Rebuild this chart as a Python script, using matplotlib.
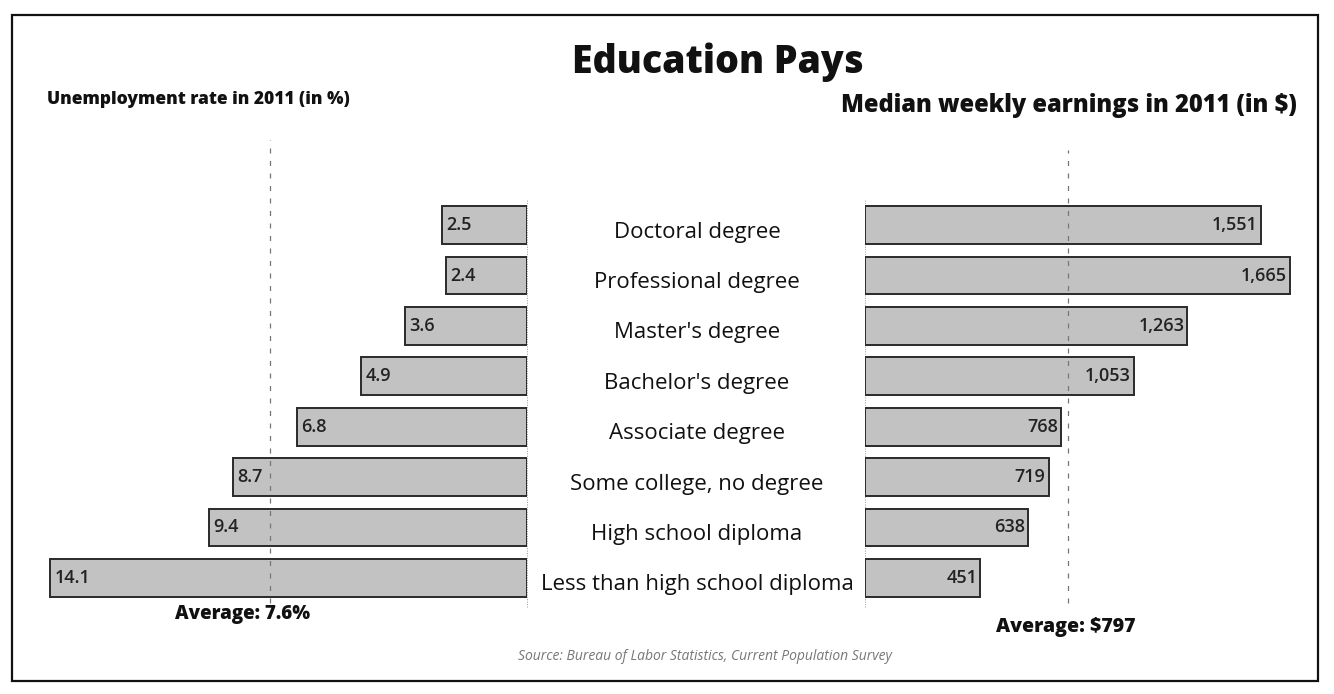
import matplotlib
matplotlib.use("Agg")
import matplotlib.pyplot as plt
from matplotlib.patches import Rectangle

categories = ["Doctoral degree", "Professional degree", "Master's degree",
              "Bachelor's degree", "Associate degree", "Some college, no degree",
              "High school diploma", "Less than high school diploma"]
unemployment = [2.5, 2.4, 3.6, 4.9, 6.8, 8.7, 9.4, 14.1]
unemp_labels = ["2.5", "2.4", "3.6", "4.9", "6.8", "8.7", "9.4", "14.1"]
earnings = [1551, 1665, 1263, 1053, 768, 719, 638, 451]
earn_labels = ["1,551", "1,665", "1,263", "1,053", "768", "719", "638", "451"]
avg_unemp = 7.6
avg_earn = 797

plt.rcParams['font.family'] = ['Open Sans', 'DejaVu Sans']

W, H = 1334, 694
fig = plt.figure(figsize=(W / 100, H / 100), dpi=100)
fig.patch.set_facecolor('white')

def fx(x):
    return x / W

def fy(y):
    return 1 - y / H

# frame
fig.patches.append(Rectangle((fx(12), fy(681)), fx(1318) - fx(12), fy(15) - fy(681),
                             transform=fig.transFigure, fill=False,
                             edgecolor='#111111', linewidth=1.6))

top_px, bot_px = 200, 603
ax_h = (bot_px - top_px) / H
axL = fig.add_axes([fx(40), fy(bot_px), fx(527) - fx(40), ax_h])
axR = fig.add_axes([fx(865), fy(bot_px), fx(1310) - fx(865), ax_h])

ypos = list(range(len(categories)))
bar_color = '#c2c2c2'
edge = '#2a2a2a'

axL.barh(ypos, unemployment, height=0.75, color=bar_color, edgecolor=edge, linewidth=1.4)
axL.set_xlim(14.4, 0)
axL.set_ylim(len(categories) - 0.5, -0.5)

axR.barh(ypos, earnings, height=0.75, color=bar_color, edgecolor=edge, linewidth=1.4)
axR.set_xlim(0, 445 / 0.2553)
axR.set_ylim(len(categories) - 0.5, -0.5)

for ax in (axL, axR):
    ax.axis('off')

# baselines (dotted)
axL.axvline(0, ymin=-0.01, ymax=1.0, color='#999999', lw=0.7, ls=(0, (1, 1.5)), clip_on=False, zorder=0)
axR.axvline(0, ymin=-0.01, ymax=1.0, color='#999999', lw=0.7, ls=(0, (1, 1.5)), clip_on=False, zorder=0)

# average lines
axL.axvline(avg_unemp, ymin=0.0, ymax=(bot_px - 140) / (bot_px - top_px), color='#777777',
            lw=0.9, ls=(0, (4, 6)), clip_on=False, zorder=3)
axR.axvline(avg_earn, ymin=0.0, ymax=(bot_px - 150) / (bot_px - top_px), color='#777777',
            lw=0.9, ls=(0, (4, 6)), clip_on=False, zorder=3)

# value labels
for y, v, t in zip(ypos, unemployment, unemp_labels):
    axL.text(v - 0.12, y, t, ha='left', va='center', fontsize=13, color='#222222',
             fontweight='semibold', zorder=4)
for y, v, t in zip(ypos, earnings, earn_labels):
    axR.text(v - 12, y, t, ha='right', va='center', fontsize=13, color='#222222',
             fontweight='semibold', zorder=4)

# center category labels
for y, c in zip(ypos, categories):
    yp = top_px + (y + 0.5) * (bot_px - top_px) / len(categories) + 7
    fig.text(fx(697), fy(yp), c, ha='center', va='center', fontsize=16, color='#111111')

# titles
fig.text(fx(718), fy(62), "Education Pays", ha='center', va='center', fontsize=27,
         fontweight='extra bold', color='#111111')
fig.text(fx(47), fy(100), "Unemployment rate in 2011 (in %)", ha='left', va='center',
         fontsize=12.5, fontweight='extra bold', color='#111111')
fig.text(fx(1297), fy(105), "Median weekly earnings in 2011 (in $)", ha='right', va='center',
         fontsize=17, fontweight='extra bold', color='#111111')

# averages
fig.text(fx(243), fy(614), "Average: 7.6%", ha='center', va='center', fontsize=13.5,
         fontweight='extra bold', color='#111111')
fig.text(fx(1066), fy(627), "Average: $797", ha='center', va='center', fontsize=14,
         fontweight='extra bold', color='#111111')

# source
fig.text(fx(705), fy(656), "Source: Bureau of Labor Statistics, Current Population Survey",
         ha='center', va='center', fontsize=10, style='italic', color='#777777')

fig.savefig('out.png', dpi=100, facecolor='white')
